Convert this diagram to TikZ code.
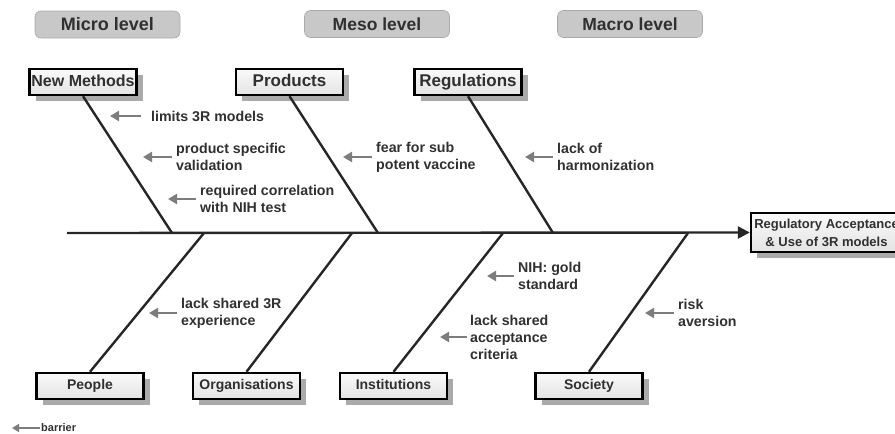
\documentclass[tikz,border=0pt]{standalone}
\usepackage{fontspec}
\setmainfont{Liberation Sans}
\usetikzlibrary{arrows.meta,positioning,shadows}
\usepackage{xcolor}
\definecolor{ink}{RGB}{48, 48, 48}
\definecolor{barrgray}{RGB}{125, 125, 125}
\definecolor{levelgray}{RGB}{200, 200, 200}
\definecolor{shadowgray}{RGB}{170, 170, 170}

\tikzset{
    level/.style={
        rounded corners=6pt,
        fill=levelgray,
        draw=levelgray!85!black,
        line width=0.6pt,
        minimum width=145pt,
        minimum height=27pt,
        font=\bfseries\fontsize{17.5}{20}\selectfont,
        text=ink
    },
    cat/.style={
        draw,
        line width=2.4pt,
        top color=gray!4,
        bottom color=gray!22,
        minimum width=107pt,
        minimum height=26pt,
        inner sep=0pt,
        text height=11pt,
        text depth=3pt,
        font=\bfseries\fontsize{16}{18}\selectfont,
        text=ink,
        drop shadow={shadow xshift=6pt, shadow yshift=-6pt, fill=shadowgray, opacity=1}
    },
    small cat/.style={
        cat,
        text height=10pt,
        text depth=3pt,
        font=\bfseries\fontsize{14}{16}\selectfont
    },
    cause/.style={
        anchor=west,
        align=left,
        inner sep=1pt,
        font=\bfseries\fontsize{14.2}{17}\selectfont,
        text=ink
    },
    barr/.style={
        draw=barrgray,
        line width=2.6pt,
        -{Triangle[length=9pt, width=10pt]}
    },
    bone/.style={
        line width=2.4pt,
        draw=black!85
    }
}

\begin{document}
\begin{tikzpicture}[x=1pt, y=-1pt]
        \useasboundingbox (0,0) rectangle (895,434);

        % levels
        \node (micro) [level, font=\bfseries\fontsize{18}{20}\selectfont] at (107.5,24.5) {Micro level};
        \node (meso) [level] at (377,24) {Meso level};
        \node (macro) [level] at (630,24) {Macro level};

        % categories
        \node (methods) [cat] at (83,82) {New Methods};
        \node (products) [cat, font=\bfseries\fontsize{17}{18}\selectfont] at (289.5,82) {Products};
        \node (regulations) [cat, font=\bfseries\fontsize{17}{18}\selectfont] at (468,82) {Regulations};
        \node (people) [small cat] at (90,386) {People};
        \node (organisations) [small cat] at (246.5,386) {Organisations};
        \node (institutions) [small cat] at (393.5,386) {Institutions};
        \node (society) [small cat] at (589,386) {Society};

        % effect
        \node (effect) [
            cat,
            align=center,
            minimum width=151pt,
            minimum height=39pt,
            text height=,
            text depth=,
            font=\bfseries\fontsize{13}{18}\selectfont
        ] at (826.5,232.5) {Regulatory Acceptance\\\& Use of 3R models};

        % spine and bones
        \coordinate (tail) at (67,233);
        \coordinate (b1) at (172,233);
        \coordinate (b2) at (378,233);
        \coordinate (b3) at (553,233);
        \coordinate (b4) at (204,233);
        \coordinate (b5) at (352,233);
        \coordinate (b6) at (503,233);
        \coordinate (b7) at (688,233);

        \draw[bone, -{Triangle[length=12pt, width=12pt]}] (tail) -- (effect.west);
        \draw[bone] (methods.south) -- (b1);
        \draw[bone] (products.south) -- (b2);
        \draw[bone] (regulations.south) -- (b3);
        \draw[bone] (people.north) -- (b4);
        \draw[bone] (organisations.north) -- (b5);
        \draw[bone] (institutions.north) -- (b6);
        \draw[bone] (society.north) -- (b7);

        % barriers
        \node (limits) [cause] at (150,116) {limits 3R models};
        \node (validation) [cause] at (175,157) {product specific\\validation};
        \node (correlation) [cause] at (199,199) {required correlation\\with NIH test};
        \node (fear) [cause] at (375,157) {fear for sub\\potent vaccine};
        \node (harmonization) [cause] at (556,157) {lack of\\harmonization};
        \node (experience) [cause] at (180,313) {lack shared 3R\\experience};
        \node (gold) [cause] at (517,276) {NIH: gold\\standard};
        \node (criteria) [cause] at (469,337) {lack shared\\acceptance\\criteria};
        \node (risk) [cause] at (677,313) {risk\\aversion};

        \draw[barr, shorten <=9pt] (limits.west) -- ++(-40,0);
        \draw[barr, shorten <=3pt] (validation.west) -- ++(-32,0);
        \draw[barr, shorten <=3pt] (correlation.west) -- ++(-31,0);
        \draw[barr, shorten <=3pt] (fear.west) -- ++(-32,0);
        \draw[barr, shorten <=3pt] (harmonization.west) -- ++(-31,0);
        \draw[barr, shorten <=3pt] (experience.west) -- ++(-31,0);
        \draw[barr, shorten <=3pt] (gold.west) -- ++(-30,0);
        \draw[barr, shorten <=2pt] (criteria.west) -- ++(-29,0);
        \draw[barr, shorten <=3pt] (risk.west) -- ++(-32,0);

        % legend
        \node (barrier) [cause, font=\bfseries\fontsize{11}{13}\selectfont] at (40,428) {barrier};
        \draw[barr, line width=2pt, -{Triangle[length=7pt, width=8pt]}] (barrier.west) -- ++(-28,0);
    \end{tikzpicture}
\end{document}
